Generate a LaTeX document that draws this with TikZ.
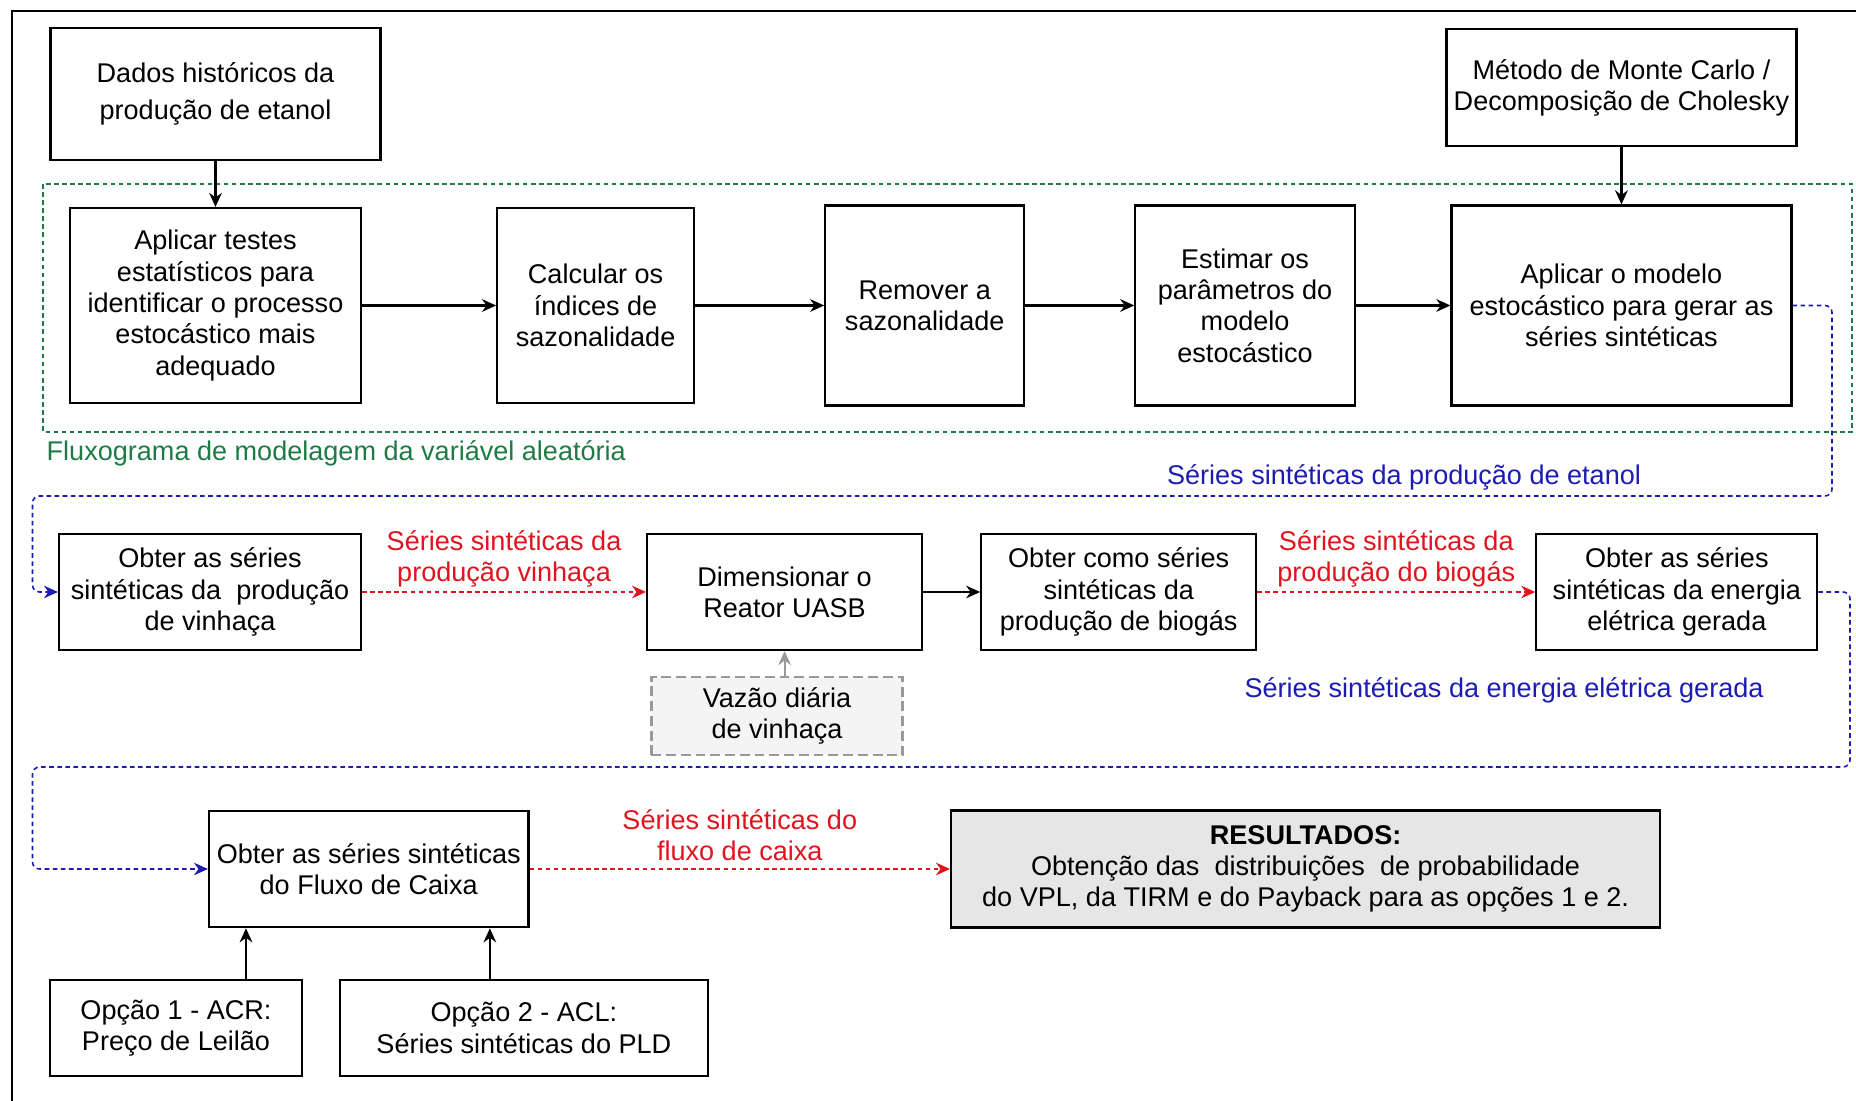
\documentclass[tikz,border=0pt]{standalone}
\usepackage{fontspec}
\setmainfont{Liberation Sans}
\usetikzlibrary{positioning,arrows.meta}
\definecolor{flxgreen}{HTML}{1E7B45}
\definecolor{serblue}{HTML}{1C1CB4}
\definecolor{serred}{HTML}{E0141E}
\definecolor{vzgray}{HTML}{999999}
\definecolor{vzfill}{HTML}{F4F4F4}
\definecolor{resfill}{HTML}{E6E6E6}
\newcommand{\diagfont}{\fontsize{7.7}{8.9}\selectfont}

\begin{document}
\begin{tikzpicture}[
	box/.style={draw, fill=white, line width=0.6pt, align=center, inner sep=1pt, font=\diagfont},
	arr/.style={-{Stealth[length=4pt,width=3.6pt,inset=1.3pt]}, line width=0.6pt},
	vzarr/.style={-{Stealth[length=4pt,width=3.6pt,inset=1.3pt]}, line width=0.6pt, vzgray},
	blueflow/.style={-{Stealth[length=4pt,width=3.6pt,inset=1.3pt]}, serblue, line width=0.45pt, dash pattern=on 1.3pt off 1pt, rounded corners=2pt},
	redflow/.style={-{Stealth[length=4pt,width=3.6pt,inset=1.3pt]}, serred, line width=0.45pt, dash pattern=on 1.3pt off 1pt},
	redlbl/.style={text=serred, font=\diagfont, align=center, inner sep=1pt},
	bluelbl/.style={text=serblue, font=\diagfont, inner sep=0pt}]
	\useasboundingbox (0,0) rectangle (18.56,-11.01);
	\draw[line width=0.6pt] (0.12,-11.01) |- (18.56,-0.11);
	\draw[flxgreen, line width=0.45pt, dash pattern=on 1.3pt off 1pt] (0.43,-1.84) rectangle (18.52,-4.32);
	\node[text=flxgreen, font=\diagfont, anchor=west, inner sep=0pt] (lblfluxo) at (0.46,-4.53) {Fluxograma de modelagem da variável aleatória};

	\node[box, minimum width=2.91cm, minimum height=1.95cm] (testes) at (2.155,-3.055) {Aplicar testes\\estatísticos para\\identificar o processo\\estocástico mais\\adequado};
	\node[box, minimum width=1.97cm, minimum height=1.95cm, right=1.34cm of testes] (indices) {Calcular os\\índices de\\sazonalidade};
	\node[box, minimum width=1.99cm, minimum height=2cm, right=1.29cm of indices] (remover) {Remover a\\sazonalidade};
	\node[box, minimum width=2.195cm, minimum height=2cm, right=1.09cm of remover] (estimar) {Estimar os\\parâmetros do\\modelo\\estocástico};
	\node[box, minimum width=3.4cm, minimum height=2cm, right=0.945cm of estimar] (modelo) {Aplicar o modelo\\estocástico para gerar as\\séries sintéticas};
	\node[box, minimum width=3.3cm, minimum height=1.32cm, above=0.46cm of testes] (dados) {Dados históricos da\\[1.7pt]produção de etanol};
	\node[box, minimum width=3.5cm, minimum height=1.17cm, above=0.57cm of modelo] (metodo) {Método de Monte Carlo /\\Decomposição de Cholesky};

	\node[box, minimum width=3.02cm, minimum height=1.16cm] (vinhaca) at (2.1,-5.92) {Obter as séries\\sintéticas da\ \ produção\\de vinhaça};
	\node[box, minimum width=2.75cm, minimum height=1.16cm, right=2.84cm of vinhaca] (reator) {Dimensionar o\\Reator UASB};
	\node[box, minimum width=2.75cm, minimum height=1.16cm, right=0.57cm of reator] (biogas) {Obter como séries\\sintéticas da\\produção de biogás};
	\node[box, minimum width=2.81cm, minimum height=1.16cm, right=2.78cm of biogas] (energia) {Obter as séries\\sintéticas da energia\\elétrica gerada};
	\node[box, draw=vzgray, fill=vzfill, line width=0.75pt, dash pattern=on 2.8pt off 1.4pt, minimum width=2.515cm, minimum height=0.78cm] (vazao) at (7.77,-7.16) {Vazão diária\\de vinhaça};
	\node[bluelbl] (lbletanol) at (14.04,-4.77) {Séries sintéticas da produção de etanol};
	\node[bluelbl] (lblenergia) at (15.04,-6.9) {Séries sintéticas da energia elétrica gerada};

	\node[box, minimum width=3.195cm, minimum height=1.165cm] (caixa) at (3.6875,-8.69) {Obter as séries sintéticas\\do Fluxo de Caixa};
	\node[box, fill=resfill, minimum width=7.09cm, minimum height=1.17cm, right=4.205cm of caixa] (result) {\textbf{RESULTADOS:}\\Obtenção das\ \ distribuições\ \ de probabilidade\\do VPL, da TIRM e do Payback para as opções 1 e 2.};
	\node[box, minimum width=2.52cm, minimum height=0.96cm] (opcao1) at (1.76,-10.28) {Opção 1 - ACR:\\Preço de Leilão};
	\node[box, minimum width=3.675cm, minimum height=0.96cm, right=0.36cm of opcao1] (opcao2) {Opção 2 - ACL:\\Séries sintéticas do PLD};

	\draw[arr] (dados) -- (testes);
	\draw[arr] (metodo) -- (modelo);
	\draw[arr] (testes) -- (indices);
	\draw[arr] (indices) -- (remover);
	\draw[arr] (remover) -- (estimar);
	\draw[arr] (estimar) -- (modelo);
	\draw[arr] (reator) -- (biogas);
	\draw[vzarr] (vazao.north -| reator.south) -- (reator.south);
	\draw[arr] ([xshift=0.7cm]opcao1.north) -- ([xshift=0.7cm]opcao1.north |- caixa.south);
	\draw[arr] ([xshift=-0.34cm]opcao2.north) -- ([xshift=-0.34cm]opcao2.north |- caixa.south);
	\draw[redflow] (vinhaca) -- node[redlbl, above] {Séries sintéticas da\\produção vinhaça} (reator);
	\draw[redflow] (biogas) -- node[redlbl, above] {Séries sintéticas da\\produção do biogás} (energia);
	\draw[redflow] (caixa) -- node[redlbl, above=1pt] {Séries sintéticas do\\fluxo de caixa} (result);
	\draw[blueflow] (modelo.east) -| (18.32,-4.96) -- (0.325,-4.96) |- (vinhaca.west);
	\draw[blueflow] (energia.east) -| (18.5,-7.67) -- (0.325,-7.67) |- (caixa.west);
\end{tikzpicture}
\end{document}
